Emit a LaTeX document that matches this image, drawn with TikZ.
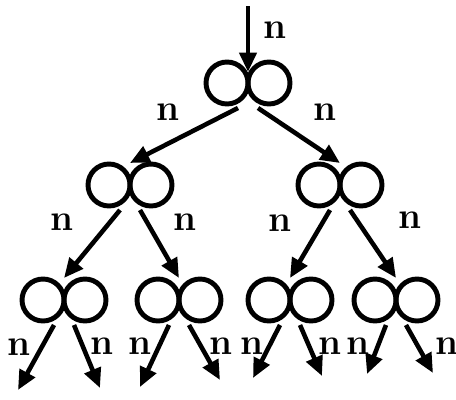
\documentclass[tikz,border=0pt]{standalone}
\usepackage{tikz}
\usetikzlibrary{arrows.meta}

\tikzset{
  ring/.style={circle,draw,line width=2.8pt,minimum size=0.84cm,inner sep=0pt,outer sep=0pt},
  lab/.style={font=\fontsize{21}{23}\selectfont\bfseries,inner sep=0pt},
}

\begin{document}
\begin{tikzpicture}[x=0.02cm,y=-0.02cm,line width=2.6pt,
  > = {Triangle[length=3.9mm,width=3.4mm]}]
\useasboundingbox (0,0) rectangle (456,399);

% pairs of rings
\foreach \p/\x/\y in {a/248/83, b/130/185, c/340/185,
                      d/64/300, e/179/300, f/290/300, g/396/300} {
  \coordinate (\p) at (\x,\y);
  \node[ring,anchor=east] (\p1) at (\p) {};
  \node[ring,anchor=west] (\p2) at (\p) {};
  \coordinate (\p-t) at (\x,\y-22);
  \coordinate (\p-l) at (\x-10,\y+25);
  \coordinate (\p-r) at (\x+10,\y+25);
}

% input
\coordinate (in) at (248,6);
\coordinate (in-t) at (248,72);
\draw[->] (in) -- (in-t);

% tree
\draw[->] (a-l) -- (b-t);
\draw[->] (a-r) -- (c-t);
\draw[->] (b-l) -- (d-t);
\draw[->] (b-r) -- (e-t);
\draw[->] (c-l) -- (f-t);
\draw[->] (c-r) -- (g-t);

% outputs
\foreach \p/\lx/\ly/\rx/\ry in {d/18/390/100/388, e/140/387/220/380,
                                f/253/378/322/376, g/367/374/433/373} {
  \coordinate (\p-lo) at (\lx,\ly);
  \coordinate (\p-ro) at (\rx,\ry);
  \draw[->] (\p-l) -- (\p-lo);
  \draw[->] (\p-r) -- (\p-ro);
}

% labels
\foreach \x/\y [count=\i] in {275/30, 168/112, 325/112,
    62/222, 185/222, 280/223, 410/220,
    19/347, 102/346, 140/346, 221/346, 252/346, 330/346, 358/346, 447/346}
  \node[lab] (n\i) at (\x,\y) {n};
\end{tikzpicture}
\end{document}
